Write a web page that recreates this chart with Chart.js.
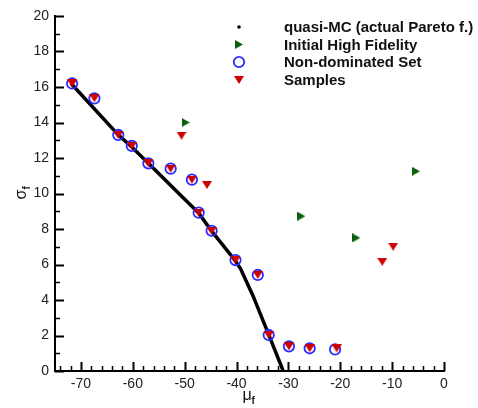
<!DOCTYPE html>
<html>
<head>
<meta charset="utf-8">
<script src="https://cdn.jsdelivr.net/npm/chart.js@4/dist/chart.umd.min.js"></script>
<style>
html, body { margin: 0; padding: 0; background: #fff; }
#wrap { width: 478px; height: 408px; }
</style>
</head>
<body>
<div id="wrap"><canvas id="chart" width="478" height="408"></canvas></div>
<script>
// quasi-MC estimate of the actual Pareto front
const paretoX = [-71.9, -62.8, -60.2, -57.0, -52.0, -47.3, -44.8, -40.2, -39.2, -36.7, -33.8, -31.0];
const paretoY = [16.2, 13.3, 12.62, 11.7, 10.25, 8.9, 7.88, 6.2, 5.75, 4.15, 2.05, 0.0];

// initial high fidelity runs
const initialX = [-49.8, -27.5, -16.9, -5.4];
const initialY = [14.0, 8.72, 7.5, 11.25];

// non-dominated set
const nondomX = [-71.7, -67.4, -62.8, -60.2, -57.0, -52.7, -48.6, -47.3, -44.8, -40.2, -35.9, -33.8, -29.9, -25.9, -21.0];
const nondomY = [16.2, 15.36, 13.3, 12.68, 11.7, 11.4, 10.78, 8.92, 7.9, 6.25, 5.41, 2.03, 1.39, 1.28, 1.22];

// all samples
const samplesX = [-71.7, -67.4, -62.8, -60.2, -57.0, -52.7, -48.6, -47.3, -44.8, -40.2, -35.9, -33.8, -29.9, -25.9, -20.7, -50.6, -45.7, -11.9, -9.8];
const samplesY = [16.2, 15.36, 13.3, 12.68, 11.7, 11.4, 10.78, 8.92, 7.9, 6.25, 5.41, 2.03, 1.39, 1.28, 1.28, 13.26, 10.48, 6.15, 7.0];

const seriesNames = ['quasi-MC (actual Pareto f.)', 'Initial High Fidelity', 'Non-dominated Set', 'Samples'];

const xTicks = [-74, -72, -70, -68, -66, -64, -62, -60, -58, -56, -54, -52, -50, -48, -46, -44, -42, -40, -38, -36, -34, -32, -30, -28, -26, -24, -22, -20, -18, -16, -14, -12, -10, -8, -6, -4, -2, 0];
const yTicks = [0, 1, 2, 3, 4, 5, 6, 7, 8, 9, 10, 11, 12, 13, 14, 15, 16, 17, 18, 19, 20];

const RED = '#cc0000';
const GREEN = '#0a5f0a';
const BLUE = '#2b2bff';

function toPoints(xs, ys) {
    return xs.map((x, i) => ({ x: x, y: ys[i] }));
}

// small marker images for the triangles
function triangleDown(w, h, color) {
    const c = document.createElement('canvas');
    c.width = w; c.height = h;
    const g = c.getContext('2d');
    g.fillStyle = color;
    g.beginPath();
    g.moveTo(0, 0);
    g.lineTo(w, 0);
    g.lineTo(w / 2, h);
    g.closePath();
    g.fill();
    return c;
}
function triangleRight(w, h, color) {
    const c = document.createElement('canvas');
    c.width = w; c.height = h;
    const g = c.getContext('2d');
    g.fillStyle = color;
    g.beginPath();
    g.moveTo(0, 0);
    g.lineTo(w, h / 2);
    g.lineTo(0, h);
    g.closePath();
    g.fill();
    return c;
}
const redTri = triangleDown(10, 8, RED);
const greenTri = triangleRight(8, 9, GREEN);

const innerTicks = {
    id: 'innerTicks',
    afterDatasetsDraw(chart) {
        const ctx = chart.ctx;
        const xs = chart.scales.x;
        const ys = chart.scales.y;
        const area = chart.chartArea;
        ctx.save();
        ctx.strokeStyle = '#000';
        xTicks.forEach(v => {
            const px = Math.round(xs.getPixelForValue(v)) + 0.5;
            const major = v % 10 === 0;
            ctx.lineWidth = major ? 2 : 1.5;
            ctx.beginPath();
            ctx.moveTo(px, area.bottom);
            ctx.lineTo(px, area.bottom - (major ? 9 : 5));
            ctx.stroke();
        });
        yTicks.forEach(v => {
            const py = Math.round(ys.getPixelForValue(v)) + 0.5;
            const major = v % 2 === 0;
            ctx.lineWidth = major ? 2 : 1.5;
            ctx.beginPath();
            ctx.moveTo(area.left, py);
            ctx.lineTo(area.left + (major ? 9 : 5), py);
            ctx.stroke();
        });

        // axis titles with subscripts
        ctx.fillStyle = '#111';
        ctx.textBaseline = 'alphabetic';
        ctx.textAlign = 'left';
        const mx = (area.left + area.right) / 2 - 7;
        ctx.font = '16px "Liberation Sans", Arial, sans-serif';
        ctx.fillText('μ', mx, 400);
        ctx.font = 'bold 10px "Liberation Sans", Arial, sans-serif';
        ctx.fillText('f', mx + 9, 404);

        ctx.translate(26, (area.top + area.bottom) / 2 + 6);
        ctx.rotate(-Math.PI / 2);
        ctx.font = '16px "Liberation Sans", Arial, sans-serif';
        ctx.fillText('σ', 0, 0);
        ctx.font = 'bold 10px "Liberation Sans", Arial, sans-serif';
        ctx.fillText('f', 10, 4);
        ctx.restore();

        // legend
        ctx.save();
        ctx.font = 'bold 15px "Liberation Sans", Arial, sans-serif';
        ctx.fillStyle = '#111';
        ctx.textBaseline = 'middle';
        ctx.textAlign = 'left';
        const lx = 239, tx = 284;
        const rows = [27, 44.5, 62, 80];
        seriesNames.forEach((name, i) => {
            const y = rows[i];
            if (i === 0) {
                ctx.fillStyle = '#000';
                ctx.beginPath();
                ctx.arc(lx, y, 1.8, 0, Math.PI * 2);
                ctx.fill();
            } else if (i === 1) {
                ctx.drawImage(greenTri, lx - 4, y - 4.5);
            } else if (i === 2) {
                ctx.strokeStyle = BLUE;
                ctx.lineWidth = 1.8;
                ctx.beginPath();
                ctx.arc(lx, y, 5.2, 0, Math.PI * 2);
                ctx.stroke();
            } else {
                ctx.drawImage(redTri, lx - 5, y - 4);
            }
            ctx.fillStyle = '#111';
            ctx.fillText(name, tx, y + 1);
        });
        ctx.restore();
    }
};

const ctx = document.getElementById('chart').getContext('2d');
const chart = new Chart(ctx, {
    type: 'scatter',
    data: {
        datasets: [
            {
                label: seriesNames[3],
                data: toPoints(samplesX, samplesY),
                pointStyle: redTri,
                order: 0
            },
            {
                label: seriesNames[2],
                data: toPoints(nondomX, nondomY),
                pointStyle: 'circle',
                pointRadius: 5.2,
                borderColor: BLUE,
                backgroundColor: 'rgba(0,0,0,0)',
                pointBorderWidth: 1.8,
                order: 1
            },
            {
                label: seriesNames[1],
                data: toPoints(initialX, initialY),
                pointStyle: greenTri,
                order: 2
            },
            {
                label: seriesNames[0],
                data: toPoints(paretoX, paretoY),
                showLine: true,
                borderColor: '#000',
                borderWidth: 3.5,
                borderJoinStyle: 'round',
                pointRadius: 0,
                tension: 0,
                order: 3
            }
        ]
    },
    options: {
        responsive: false,
        animation: false,
        layout: { padding: { left: 0, top: 16, right: 34, bottom: 0 } },
        plugins: {
            legend: { display: false },
            tooltip: { enabled: false }
        },
        scales: {
            x: {
                type: 'linear',
                min: -75,
                max: 0,
                afterBuildTicks: scale => { scale.ticks = xTicks.map(v => ({ value: v })); },
                afterFit: scale => { scale.height = 37; },
                grid: { display: true, drawOnChartArea: false, drawTicks: false, color: 'rgba(0,0,0,0)' },
                border: { display: true, color: '#000', width: 2 },
                ticks: {
                    autoSkip: false,
                    maxRotation: 0,
                    padding: 5,
                    color: '#222',
                    font: { family: '"Liberation Sans", Arial, sans-serif', size: 14 },
                    callback: v => (v % 10 === 0 ? v : '')
                }
            },
            y: {
                type: 'linear',
                min: 0,
                max: 20,
                afterBuildTicks: scale => { scale.ticks = yTicks.map(v => ({ value: v })); },
                afterFit: scale => { scale.width = 55; },
                grid: { display: true, drawOnChartArea: false, drawTicks: false, color: 'rgba(0,0,0,0)' },
                border: { display: true, color: '#000', width: 2 },
                ticks: {
                    autoSkip: false,
                    padding: 6,
                    color: '#222',
                    font: { family: '"Liberation Sans", Arial, sans-serif', size: 14 },
                    callback: v => (v % 2 === 0 ? v : '')
                }
            }
        }
    },
    plugins: [innerTicks]
});
</script>
</body>
</html>
